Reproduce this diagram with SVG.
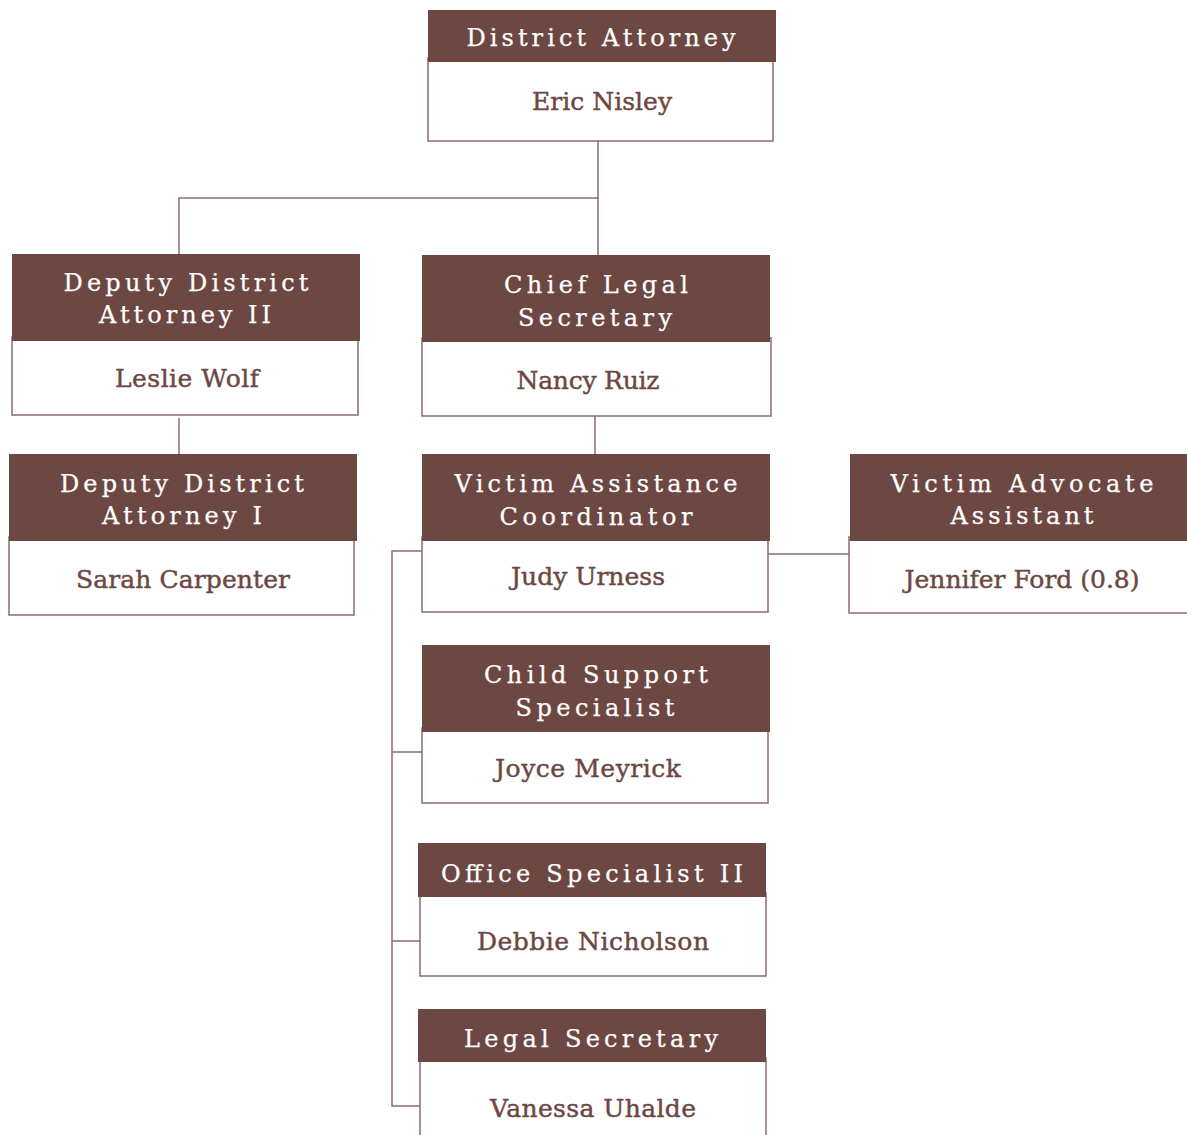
<svg xmlns="http://www.w3.org/2000/svg" width="1187" height="1135" viewBox="0 0 1187 1135">
  <style>
    .body { fill: #ffffff; stroke: #8a6c68; stroke-width: 1.5; }
    .head { fill: #6d4742; }
    .title { font-family: "DejaVu Serif", "Liberation Serif", serif; font-size: 24px; fill: #ffffff; stroke: #ffffff; stroke-width: 0.25; text-anchor: middle; }
    .name { font-family: "DejaVu Serif", "Liberation Serif", serif; font-size: 25px; fill: #6d4742; stroke: #6d4742; stroke-width: 0.45; text-anchor: middle; }
    .link { fill: none; stroke: #8a6c68; stroke-width: 1.5; }
  </style>

  <!-- reporting lines -->
  <g id="connectors">
    <polyline class="link" points="598,141 598,198 179,198 179,254"/>
    <line class="link" x1="598" y1="198" x2="598" y2="255"/>
    <line class="link" x1="179" y1="418" x2="179" y2="454"/>
    <line class="link" x1="595" y1="416" x2="595" y2="454"/>
    <line class="link" x1="768" y1="554" x2="849" y2="554"/>
    <polyline class="link" points="422,551 392,551 392,1106 420,1106"/>
    <line class="link" x1="392" y1="752" x2="422" y2="752"/>
    <line class="link" x1="392" y1="941" x2="420" y2="941"/>
  </g>

  <g id="district-attorney">
    <rect class="body" x="428" y="58" width="345" height="83"/>
    <rect class="head" x="428" y="10" width="348" height="52"/>
    <text class="title" x="601" y="46" textLength="269" lengthAdjust="spacing">District Attorney</text>
    <text class="name" x="602" y="110" textLength="140" lengthAdjust="spacing">Eric Nisley</text>
  </g>

  <g id="deputy-da-2">
    <rect class="body" x="12" y="337" width="346" height="78"/>
    <rect class="head" x="12" y="254" width="348" height="87"/>
    <text class="title" x="186" y="291" textLength="245" lengthAdjust="spacing">Deputy District</text>
    <text class="title" x="185" y="323" textLength="172" lengthAdjust="spacing">Attorney II</text>
    <text class="name" x="187" y="387" textLength="144" lengthAdjust="spacing">Leslie Wolf</text>
  </g>

  <g id="chief-legal-secretary">
    <rect class="body" x="422" y="338" width="349" height="78"/>
    <rect class="head" x="422" y="255" width="348" height="87"/>
    <text class="title" x="596" y="293" textLength="184" lengthAdjust="spacing">Chief Legal</text>
    <text class="title" x="595" y="326" textLength="154" lengthAdjust="spacing">Secretary</text>
    <text class="name" x="588" y="389" textLength="143" lengthAdjust="spacing">Nancy Ruiz</text>
  </g>

  <g id="deputy-da-1">
    <rect class="body" x="9" y="537" width="345" height="78"/>
    <rect class="head" x="9" y="454" width="348" height="87"/>
    <text class="title" x="182" y="492" textLength="244" lengthAdjust="spacing">Deputy District</text>
    <text class="title" x="182" y="524" textLength="160" lengthAdjust="spacing">Attorney I</text>
    <text class="name" x="183" y="588" textLength="214" lengthAdjust="spacing">Sarah Carpenter</text>
  </g>

  <g id="victim-assistance-coordinator">
    <rect class="body" x="422" y="537" width="346" height="75"/>
    <rect class="head" x="422" y="454" width="348" height="87"/>
    <text class="title" x="596" y="492" textLength="283" lengthAdjust="spacing">Victim Assistance</text>
    <text class="title" x="596" y="525" textLength="193" lengthAdjust="spacing">Coordinator</text>
    <text class="name" x="588" y="585" textLength="154" lengthAdjust="spacing">Judy Urness</text>
  </g>

  <g id="victim-advocate-assistant">
    <rect class="body" x="849" y="537" width="345" height="76"/>
    <rect class="head" x="850" y="454" width="345" height="87"/>
    <text class="title" x="1022" y="492" textLength="263" lengthAdjust="spacing">Victim Advocate</text>
    <text class="title" x="1022" y="524" textLength="143" lengthAdjust="spacing">Assistant</text>
    <text class="name" x="1022" y="588" textLength="235" lengthAdjust="spacing">Jennifer Ford (0.8)</text>
  </g>

  <g id="child-support-specialist">
    <rect class="body" x="422" y="728" width="346" height="75"/>
    <rect class="head" x="422" y="645" width="348" height="87"/>
    <text class="title" x="596" y="683" textLength="224" lengthAdjust="spacing">Child Support</text>
    <text class="title" x="595" y="716" textLength="159" lengthAdjust="spacing">Specialist</text>
    <text class="name" x="588" y="777" textLength="186" lengthAdjust="spacing">Joyce Meyrick</text>
  </g>

  <g id="office-specialist-2">
    <rect class="body" x="420" y="893" width="346" height="83"/>
    <rect class="head" x="418" y="843" width="348" height="54"/>
    <text class="title" x="592" y="882" textLength="302" lengthAdjust="spacing">Office Specialist II</text>
    <text class="name" x="593" y="950" textLength="232" lengthAdjust="spacing">Debbie Nicholson</text>
  </g>

  <g id="legal-secretary">
    <rect class="body" x="420" y="1058" width="346" height="90"/>
    <rect class="head" x="418" y="1009" width="348" height="53"/>
    <text class="title" x="591" y="1047" textLength="254" lengthAdjust="spacing">Legal Secretary</text>
    <text class="name" x="593" y="1117" textLength="206" lengthAdjust="spacing">Vanessa Uhalde</text>
  </g>
</svg>
